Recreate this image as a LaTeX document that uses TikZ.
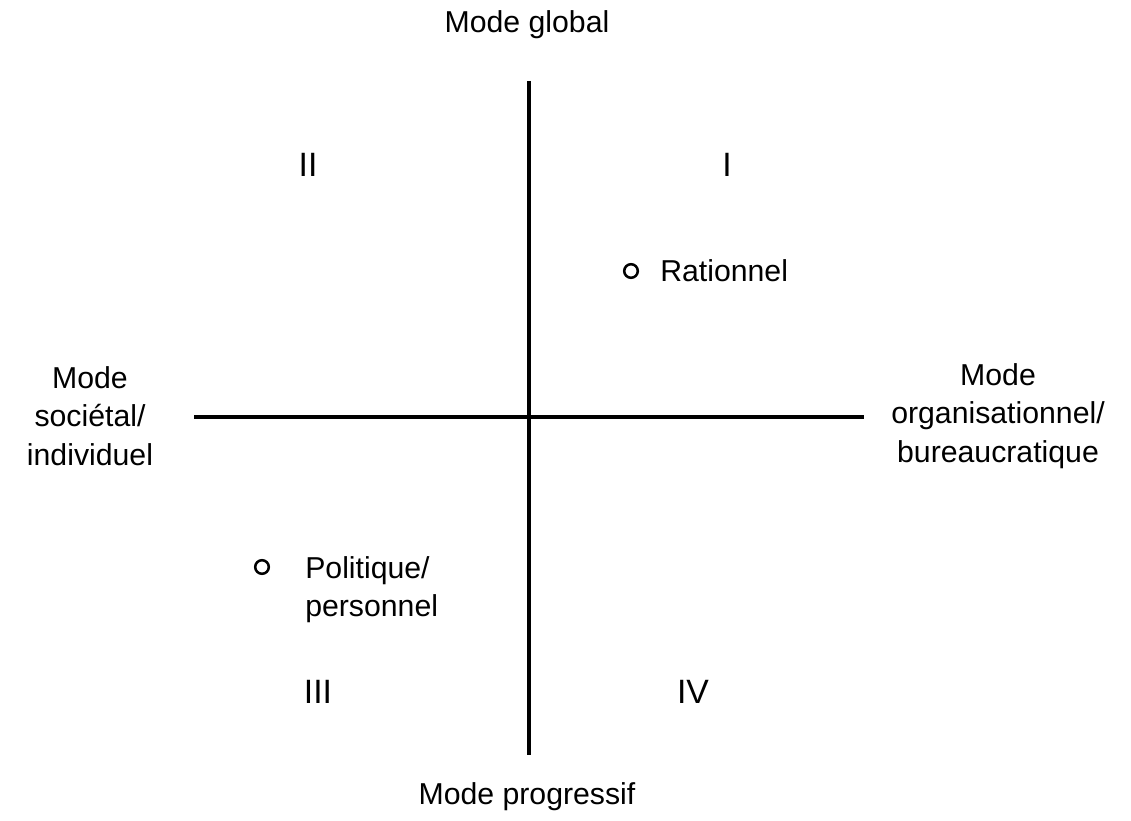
\documentclass[tikz,border=0pt]{standalone}
\usepackage{fontspec}
\setmainfont{Liberation Sans}
\usepackage{tikz}
\usetikzlibrary{positioning}

\begin{document}
\begin{tikzpicture}[x=0.025cm, y=-0.025cm,
  axis/.style={line width=2.4pt, black},
  lbl/.style={font=\fontsize{21.5}{27.5}\selectfont, align=center, inner sep=0pt},
  quad/.style={font=\fontsize{24}{28}\selectfont, inner sep=0pt},
  dot/.style={circle, draw, line width=1.8pt, minimum size=0.34cm, inner sep=0pt},
]
\useasboundingbox (0,0) rectangle (1131,821);
% axes
\coordinate (top)    at (529,81);
\coordinate (bottom) at (529,755);
\coordinate (left)   at (194,417);
\coordinate (right)  at (864,417);
\draw[axis] (top) -- (bottom);
\draw[axis] (left) -- (right);
% axis labels
\node[lbl] (glob) at (527,25)  {Mode global};
\node[lbl] (prog) at (527,797) {Mode progressif};
\node[lbl] (soc)  at (90,416)  {Mode\\sociétal/\\individuel};
\node[lbl] (org)  at (998,416) {Mode\\organisationnel/\\bureaucratique};
% quadrants
\node[quad] (q1) at (727,165) {I};
\node[quad] (q2) at (308,165) {II};
\node[quad] (q3) at (318,692) {III};
\node[quad] (q4) at (693,692) {IV};
% models
\node[dot] (rat) at (631,271) {};
\node[lbl, anchor=west] (ratl) at (660,271) {Rationnel};
\node[dot] (pol) at (262,567) {};
\node[lbl, align=left, anchor=north west] (poll) at (305,556) {Politique/\\personnel};
\end{tikzpicture}
\end{document}
